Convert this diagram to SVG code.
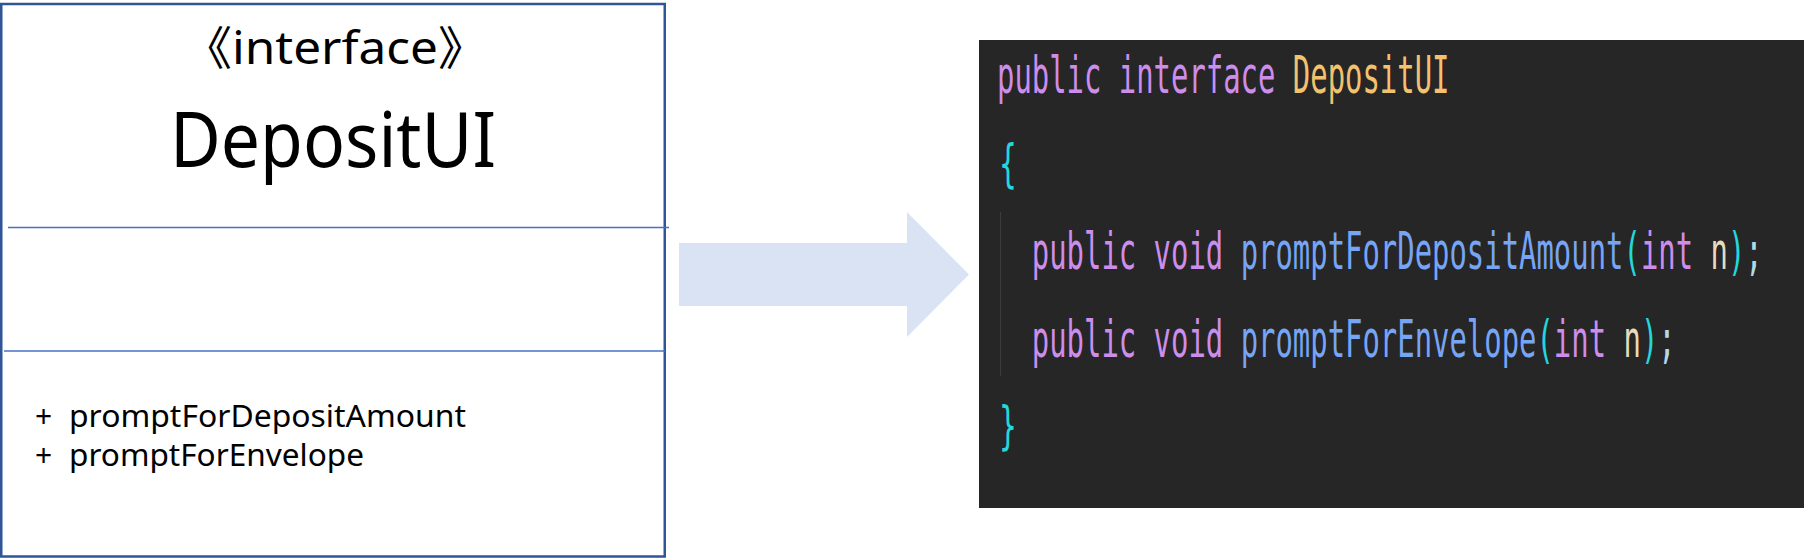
<svg xmlns="http://www.w3.org/2000/svg" width="1804" height="559" viewBox="0 0 1804 559">
  <style>
    .uml { font-family: "Noto Sans", "Noto Sans CJK SC", sans-serif; fill: #000000; }
    .code { font-family: "DejaVu Sans Mono", "Liberation Mono", monospace; font-size: 51px; }
    .kw { fill: #CD8DEB; }
    .cls { fill: #F3C26E; }
    .fn { fill: #77A5F6; }
    .par { fill: #22D8DC; }
    .prm { fill: #E6DCBC; }
    .semi { fill: #B2D9E6; }
    .divider { stroke: #4472C4; stroke-width: 1.5; }
  </style>
  <rect x="0" y="0" width="1804" height="559" fill="#FFFFFF"/>

  <g id="interface-box">
    <rect x="1.25" y="4" width="663.5" height="552.5" fill="#FFFFFF" stroke="#2F5597" stroke-width="2.5"/>
    <line class="divider" x1="8" y1="227.5" x2="669" y2="227.5"/>
    <line class="divider" x1="4" y1="351" x2="665" y2="351"/>
    <text class="uml" x="335" y="64" font-size="46" text-anchor="middle" textLength="305" lengthAdjust="spacingAndGlyphs">《interface》</text>
    <text class="uml" x="333" y="167" font-size="76" text-anchor="middle" textLength="326" lengthAdjust="spacingAndGlyphs">DepositUI</text>
    <text class="uml" x="35" y="427" font-size="30">+</text>
    <text class="uml" x="69" y="427" font-size="30" textLength="397" lengthAdjust="spacingAndGlyphs">promptForDepositAmount</text>
    <text class="uml" x="35" y="466" font-size="30">+</text>
    <text class="uml" x="69" y="466" font-size="30" textLength="295" lengthAdjust="spacingAndGlyphs">promptForEnvelope</text>
  </g>

  <g id="connectors">
    <polygon points="679,243 907,243 907,212 969,274.5 907,337 907,306 679,306" fill="#DAE3F3"/>
  </g>

  <g id="code-panel">
    <rect x="979" y="40" width="825" height="468" fill="#262626"/>
    <line x1="1000.5" y1="212" x2="1000.5" y2="376" stroke="#3C3C3C" stroke-width="1"/>
    <g class="code" transform="translate(997,0) scale(0.567,1)" xml:space="preserve">
      <text x="0" y="93"><tspan class="kw">public interface </tspan><tspan class="cls">DepositUI</tspan></text>
      <text x="4" y="181" class="par">{</text>
      <text x="61.4" y="269"><tspan class="kw">public void </tspan><tspan class="fn">promptForDepositAmount</tspan><tspan class="par">(</tspan><tspan class="kw">int </tspan><tspan class="prm">n</tspan><tspan class="par">)</tspan><tspan class="semi">;</tspan></text>
      <text x="61.4" y="357"><tspan class="kw">public void </tspan><tspan class="fn">promptForEnvelope</tspan><tspan class="par">(</tspan><tspan class="kw">int </tspan><tspan class="prm">n</tspan><tspan class="par">)</tspan><tspan class="semi">;</tspan></text>
      <text x="4" y="443" class="par">}</text>
    </g>
  </g>
</svg>
